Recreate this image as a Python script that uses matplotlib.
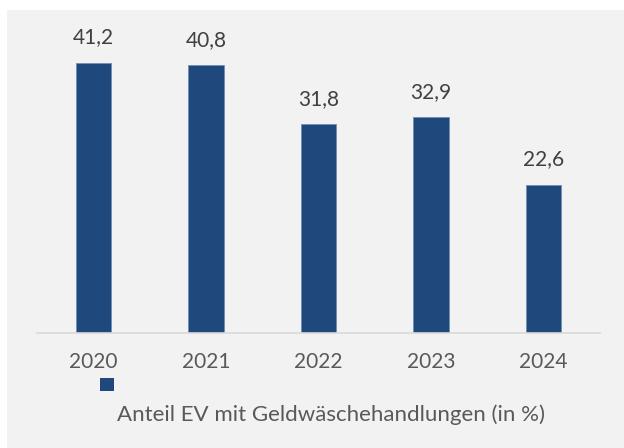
import matplotlib.pyplot as plt
from matplotlib.patches import Rectangle

years = ['2020', '2021', '2022', '2023', '2024']
shares = [41.2, 40.8, 31.8, 32.9, 22.6]
legend_label = 'Anteil EV mit Geldwäschehandlungen (in %)'

W, H = 624, 448
bar_color = '#1f497d'
plt.rcParams['font.family'] = ['Lato', 'DejaVu Sans']

fig = plt.figure(figsize=(W / 100, H / 100), dpi=100, facecolor='white')

# grey panel behind the chart
bg = fig.add_axes([0, 0, 1, 1], zorder=-1)
bg.axis('off')
bg.set_xlim(0, W)
bg.set_ylim(H, 0)
bg.add_patch(Rectangle((7, 10), W - 7, H - 10, facecolor='#f2f2f2', edgecolor='none'))
# legend: marker above the label, as in the original
bg.add_patch(Rectangle((100, 378), 14, 13, facecolor=bar_color, edgecolor='none'))

ax = fig.add_axes([37 / W, 1 - 333 / H, 563 / W, 328 / H])
ax.set_facecolor('none')
x = range(len(years))
ax.bar(x, shares, width=0.315, color=bar_color, edgecolor='#6f8fb8', linewidth=0.6)
ax.set_xlim(-0.5, len(years) - 0.5)
ax.set_ylim(0, 50)

for xi, v in zip(x, shares):
    ax.annotate(f'{v:.1f}'.replace('.', ','), (xi, v), xytext=(0, 11), textcoords='offset points',
                ha='center', va='bottom', fontsize=15, color='#404040')

ax.set_xticks(list(x))
ax.set_xticklabels(years, fontsize=15, color='#595959')
ax.tick_params(axis='x', length=0, pad=14)
ax.set_yticks([])
for s in ['top', 'right', 'left']:
    ax.spines[s].set_visible(False)
ax.spines['bottom'].set_color('#d9d9d9')
ax.spines['bottom'].set_linewidth(1.2)

fig.text(331 / W, 1 - 415 / H, legend_label, ha='center', va='center',
         fontsize=16, color='#595959')

fig.savefig('out.png', dpi=100, facecolor=fig.get_facecolor())
